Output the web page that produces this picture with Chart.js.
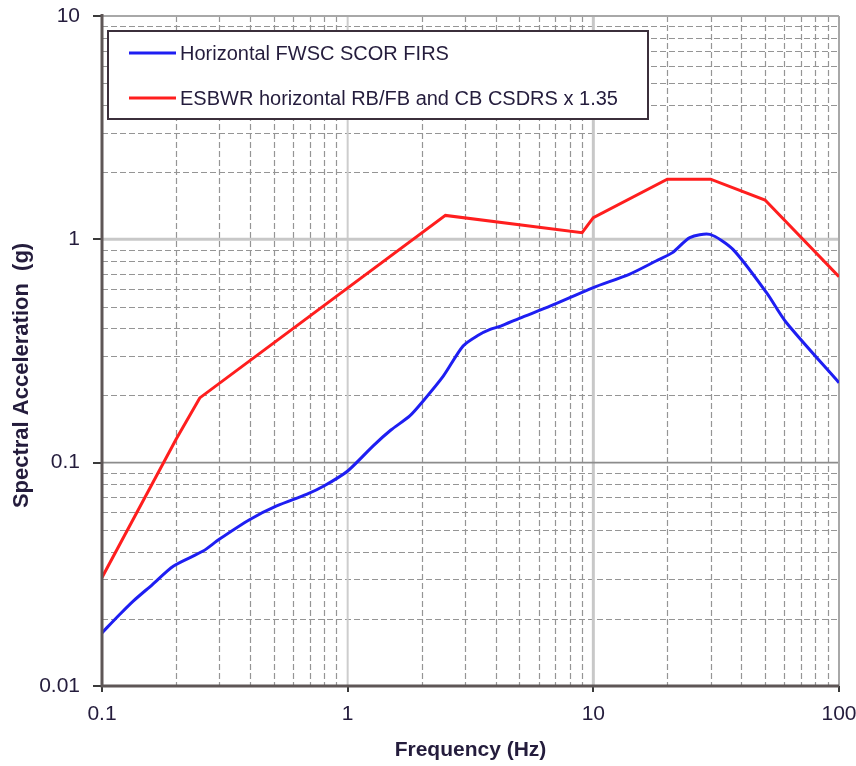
<!DOCTYPE html>
<html>
<head>
<meta charset="utf-8">
<script src="https://cdn.jsdelivr.net/npm/chart.js@4/dist/chart.umd.min.js"></script>
<style>
  html, body { margin: 0; padding: 0; background: #fff; }
  #wrap { width: 856px; height: 766px; }
</style>
</head>
<body>
<div id="wrap"><canvas id="spectra-chart" width="856" height="766"></canvas></div>
<script>
// Series labels
const seriesLabels = [
    'Horizontal FWSC SCOR FIRS',
    'ESBWR horizontal RB/FB and CB CSDRS x 1.35'
];

// Horizontal FWSC SCOR FIRS (blue)
const blueFreq  = [0.1, 0.118, 0.134, 0.16, 0.195, 0.258, 0.3, 0.4, 0.514, 0.68, 0.8, 1.0, 1.27, 1.5, 1.79, 2.03, 2.45, 2.95, 3.4, 3.8, 4.2, 5, 6.7, 10, 14, 18, 21, 24.7, 29.8, 37, 50.7, 61, 100];
const blueAccel = [0.0173, 0.0209, 0.024, 0.0284, 0.0344, 0.0402, 0.0454, 0.0557, 0.064, 0.0721, 0.0786, 0.0918, 0.119, 0.14, 0.162, 0.189, 0.244, 0.333, 0.372, 0.395, 0.409, 0.443, 0.503, 0.608, 0.697, 0.8, 0.872, 1.018, 1.053, 0.902, 0.577, 0.424, 0.228];

// ESBWR CSDRS x 1.35 (red)
const redFreq  = [0.1, 0.2, 0.25, 2.5, 9, 10, 20, 30, 50, 100];
const redAccel = [0.0306, 0.127, 0.195, 1.28, 1.07, 1.25, 1.86, 1.86, 1.5, 0.68];

// Eixos
const xDecades = [0.1, 1, 10, 100];
const xTickLabels = ['0.1', '1', '10', '100'];
const yDecades = [0.01, 0.1, 1, 10];
const yTickLabels = ['0.01', '0.1', '1', '10'];

const FONT = "'Liberation Sans', Arial, sans-serif";
const TEXT_COLOR = '#241c3c';

/**
 * Valores de grade (1..9 x cada década)
 */
function gridValues(decades) {
    const vals = [];
    for (let d = 0; d < decades.length - 1; d++) {
        for (let k = 1; k < 10; k++) vals.push(+(decades[d] * k).toPrecision(6));
    }
    vals.push(decades[decades.length - 1]);
    return vals;
}

const xGrid = gridValues(xDecades);
const yGrid = gridValues(yDecades);

function decadeLabel(value, decades, labels) {
    const i = decades.findIndex(d => Math.abs(d - value) / d < 1e-6);
    return i >= 0 ? labels[i] : '';
}

function isDecade(value, decades) {
    return decades.some(d => Math.abs(d - value) / d < 1e-6);
}

// Grade: linhas menores tracejadas, maiores sólidas
const gridPlugin = {
    id: 'logGrid',
    beforeDatasetsDraw(chart) {
        const { ctx, chartArea: a, scales } = chart;
        ctx.save();

        // menores
        ctx.setLineDash([6, 3]);
        ctx.strokeStyle = '#959595';
        ctx.lineWidth = 1.2;
        xGrid.forEach(v => {
            if (isDecade(v, xDecades)) return;
            const px = Math.round(scales.x.getPixelForValue(v)) + 0.5;
            ctx.beginPath(); ctx.moveTo(px, a.top); ctx.lineTo(px, a.bottom); ctx.stroke();
        });
        yGrid.forEach(v => {
            if (isDecade(v, yDecades)) return;
            const py = Math.round(scales.y.getPixelForValue(v)) + 0.5;
            ctx.beginPath(); ctx.moveTo(a.left, py); ctx.lineTo(a.right, py); ctx.stroke();
        });

        // maiores
        ctx.setLineDash([]);
        const major = (x1, y1, x2, y2, color, w) => {
            ctx.strokeStyle = color; ctx.lineWidth = w;
            ctx.beginPath(); ctx.moveTo(x1, y1); ctx.lineTo(x2, y2); ctx.stroke();
        };
        const x1 = scales.x.getPixelForValue(1);
        const x10 = scales.x.getPixelForValue(10);
        const y1 = scales.y.getPixelForValue(1);
        const y01 = scales.y.getPixelForValue(0.1);
        major(x1, a.top, x1, a.bottom, '#cdcdcd', 2);
        major(x10, a.top, x10, a.bottom, '#c8c8c8', 3);
        major(a.left, y1, a.right, y1, '#c8c8c8', 3);
        major(a.left, y01, a.right, y01, '#8c8c8c', 1.6);

        // bordas superior e direita
        major(a.left, a.top, a.right, a.top, '#a8a8a8', 2);
        major(a.right, a.top, a.right, a.bottom, '#a8a8a8', 2);
        ctx.restore();
    },
    afterDatasetsDraw(chart) {
        const { ctx, chartArea: a } = chart;
        ctx.save();
        ctx.strokeStyle = '#5e5656';
        ctx.lineWidth = 3;
        ctx.beginPath();
        ctx.moveTo(a.left, a.top - 2);
        ctx.lineTo(a.left, a.bottom);
        ctx.lineTo(a.right, a.bottom);
        ctx.stroke();
        ctx.restore();
    }
};

// Legenda dentro da área do gráfico
const boxLegendPlugin = {
    id: 'boxLegend',
    afterDatasetsDraw(chart) {
        const { ctx, chartArea: a } = chart;
        const left = a.left + 6, top = a.top + 15, right = a.left + 546, bottom = a.top + 103;
        ctx.save();
        ctx.fillStyle = '#fff';
        ctx.fillRect(left, top, right - left, bottom - top);
        ctx.strokeStyle = '#3b2f3b';
        ctx.lineWidth = 2;
        ctx.strokeRect(left, top, right - left, bottom - top);

        ctx.font = '20px ' + FONT;
        ctx.textBaseline = 'middle';
        ctx.textAlign = 'left';
        chart.data.datasets.forEach((ds, i) => {
            const y = top + 22 + i * 45;
            ctx.strokeStyle = ds.borderColor;
            ctx.lineWidth = 3;
            ctx.beginPath(); ctx.moveTo(left + 21, y); ctx.lineTo(left + 68, y); ctx.stroke();
            ctx.fillStyle = TEXT_COLOR;
            ctx.fillText(ds.label, left + 72, y + 1);
        });
        ctx.restore();
    }
};

function initializeSpectraChart() {
    const ctx = document.getElementById('spectra-chart');

    new Chart(ctx, {
        type: 'line',
        data: {
            datasets: [
                {
                    label: seriesLabels[0],
                    data: blueFreq.map((f, i) => ({ x: f, y: blueAccel[i] })),
                    borderColor: '#1e1ef2',
                    borderWidth: 3,
                    pointRadius: 0,
                    tension: 0.25,
                    fill: false
                },
                {
                    label: seriesLabels[1],
                    data: redFreq.map((f, i) => ({ x: f, y: redAccel[i] })),
                    borderColor: '#ff1e1e',
                    borderWidth: 3,
                    pointRadius: 0,
                    tension: 0,
                    fill: false
                }
            ]
        },
        options: {
            responsive: false,
            animation: false,
            layout: { padding: { left: 0, top: 16, right: 17, bottom: 0 } },
            plugins: {
                legend: { display: false },
                tooltip: { enabled: false }
            },
            scales: {
                x: {
                    type: 'logarithmic',
                    min: 0.1,
                    max: 100,
                    afterBuildTicks: s => { s.ticks = xGrid.map(v => ({ value: v })); },
                    afterFit: s => { s.height = 80; s.paddingLeft = 0; s.paddingRight = 0; },
                    border: { display: false },
                    grid: {
                        drawOnChartArea: false,
                        tickLength: 6,
                        lineWidth: 2,
                        tickColor: c => isDecade(c.tick.value, xDecades) ? '#3a3a3a' : 'rgba(0,0,0,0)'
                    },
                    ticks: {
                        autoSkip: false,
                        maxRotation: 0,
                        padding: 10,
                        color: TEXT_COLOR,
                        font: { family: FONT, size: 21 },
                        callback: v => decadeLabel(v, xDecades, xTickLabels)
                    },
                    title: {
                        display: true,
                        text: 'Frequency (Hz)',
                        color: TEXT_COLOR,
                        font: { family: FONT, size: 21, weight: 'bold' },
                        padding: { top: 0, bottom: 3 }
                    }
                },
                y: {
                    type: 'logarithmic',
                    min: 0.01,
                    max: 10,
                    afterBuildTicks: s => { s.ticks = yGrid.map(v => ({ value: v })); },
                    afterFit: s => { s.width = 102; s.paddingTop = 0; s.paddingBottom = 0; },
                    border: { display: false },
                    grid: {
                        drawOnChartArea: false,
                        tickLength: 9,
                        lineWidth: 2,
                        tickColor: c => isDecade(c.tick.value, yDecades) ? '#3a3a3a' : 'rgba(0,0,0,0)'
                    },
                    ticks: {
                        autoSkip: false,
                        padding: 13,
                        color: TEXT_COLOR,
                        font: { family: FONT, size: 21 },
                        callback: v => decadeLabel(v, yDecades, yTickLabels)
                    },
                    title: {
                        display: true,
                        // espaços finais deslocam o título para baixo, como no original
                        text: 'Spectral Acceleration  (g)        ',
                        color: TEXT_COLOR,
                        font: { family: FONT, size: 22, weight: 'bold' },
                        padding: { top: 9, bottom: 0 }
                    }
                }
            }
        },
        plugins: [gridPlugin, boxLegendPlugin]
    });
}

initializeSpectraChart();
</script>
</body>
</html>
